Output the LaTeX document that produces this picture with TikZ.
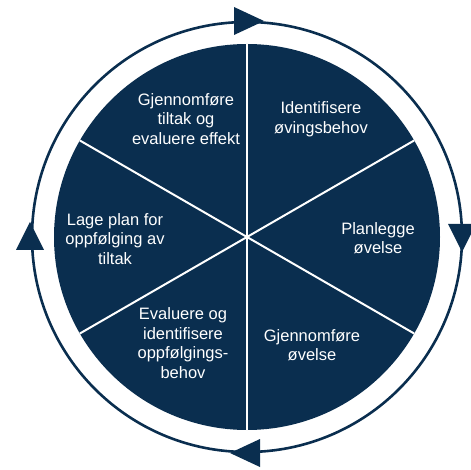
\documentclass[tikz,border=0pt]{standalone}
\usepackage{fontspec}
\setmainfont{Liberation Sans}
\definecolor{navy}{RGB}{10,46,79}
\begin{document}
\begin{tikzpicture}[x=1pt,y=1pt,
  lbl/.style={text=white,align=center,font=\fontsize{16.5}{19.5}\selectfont,inner sep=0pt},
  divider/.style={white,line width=2pt},
  tri/.style={fill=navy}]
\useasboundingbox (0,0) rectangle (471,469);
\coordinate (c) at (247,232);
% ring
\draw[navy,line width=2.6pt] (c) circle[radius=215];
% disk
\fill[navy] (c) circle[radius=193];
\foreach \a in {90,30,-30,-90,210,150}
  \draw[divider] (c) -- ++(\a:193);
% arrow heads (clockwise)
\fill[tri] (234,462) -- (234,434) -- (264,448) -- cycle;
\fill[tri] (448,245) -- (476,245) -- (462,217) -- cycle;
\fill[tri] (260,30) -- (260,2) -- (230,16) -- cycle;
\fill[tri] (16,219) -- (44,219) -- (30,247) -- cycle;
% labels
\node[lbl] (g1) at (186,350) {Gjennomføre\\tiltak og\\evaluere effekt};
\node[lbl] (id) at (321,350) {Identifisere\\øvingsbehov};
\node[lbl] (pl) at (378,231) {Planlegge\\øvelse};
\node[lbl] (g2) at (312,124) {Gjennomføre\\øvelse};
\node[lbl] (ev) at (183,126) {Evaluere og\\identifisere\\oppfølgings-\\behov};
\node[lbl] (lp) at (115,230) {Lage plan for\\oppfølging av\\tiltak};
\end{tikzpicture}
\end{document}
